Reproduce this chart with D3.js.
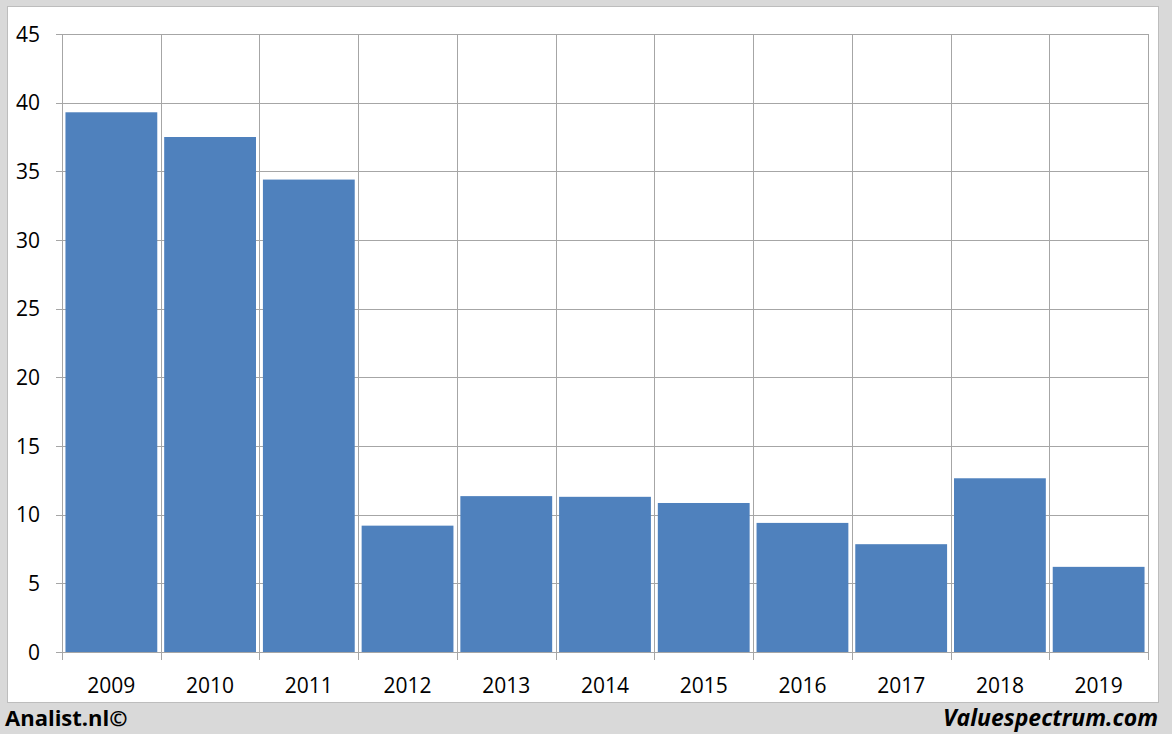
<!DOCTYPE html>
<html><head><meta charset="utf-8">
<script src="https://cdn.jsdelivr.net/npm/d3@7"></script>
<style>
html,body{margin:0;padding:0;background:#d9d9d9;}
svg{display:block;}
</style></head>
<body>
<svg id="chart" width="1172" height="734"></svg>
<script>
const categories = ["2009","2010","2011","2012","2013","2014","2015","2016","2017","2018","2019"];
const values = [39.3, 37.5, 34.4, 9.2, 11.35, 11.3, 10.85, 9.4, 7.85, 12.65, 6.2];
const yTicks = [0,5,10,15,20,25,30,35,40,45];
const leftCredit = "Analist.nl©";
const rightCredit = "Valuespectrum.com";

const svg = d3.select("#chart");
const W = 1172, H = 734;
const m = {left:62, right:1148, top:34, bottom:652};
const font = "'Open Sans', 'Liberation Sans', sans-serif";

svg.append("rect").attr("x",0).attr("y",0).attr("width",W).attr("height",H).attr("fill","#d9d9d9");
svg.append("rect").attr("x",7.5).attr("y",6.5).attr("width",1151).attr("height",696)
  .attr("fill","#ffffff").attr("stroke","#bdbdbd").attr("stroke-width",1);

const x = d3.scaleBand().domain(categories).range([m.left, m.right]).paddingInner(0.07).paddingOuter(0.035);
const xb = d3.scaleBand().domain(categories).range([m.left, m.right]).padding(0);
const y = d3.scaleLinear().domain([0,45]).range([m.bottom, m.top]);

const grid = svg.append("g");
grid.selectAll("line.h").data(yTicks).join("line")
  .attr("x1", m.left-6).attr("x2", m.right)
  .attr("y1", d=>Math.round(y(d))+0.5).attr("y2", d=>Math.round(y(d))+0.5)
  .attr("stroke","#a6a6a6").attr("stroke-width",1);
const bounds = categories.map(c=>xb(c)).concat([m.right]);
grid.selectAll("line.v").data(bounds).join("line")
  .attr("x1", d=>Math.round(d)+0.5).attr("x2", d=>Math.round(d)+0.5)
  .attr("y1", m.top).attr("y2", m.bottom+8)
  .attr("stroke","#a6a6a6").attr("stroke-width",1);

svg.append("g").selectAll("rect").data(categories).join("rect")
  .attr("x", d=>x(d)).attr("width", x.bandwidth())
  .attr("y", (d,i)=>y(values[i])).attr("height", (d,i)=>y(0)-y(values[i]))
  .attr("fill","#4f81bd");

svg.append("g").selectAll("text").data(yTicks).join("text")
  .attr("x", 40).attr("y", d=>y(d)).attr("dy","0.36em")
  .attr("text-anchor","end").attr("font-family",font).attr("font-size",21).attr("fill","#000")
  .text(d=>d);

svg.append("g").selectAll("text").data(categories).join("text")
  .attr("x", d=>xb(d)+xb.bandwidth()/2).attr("y", 693)
  .attr("text-anchor","middle").attr("font-family",font).attr("font-size",21).attr("fill","#000")
  .text(d=>d);

svg.append("text").attr("x",5).attr("y",726).attr("font-family",font).attr("font-weight","bold")
  .attr("font-size",22).attr("fill","#000").text(leftCredit);
svg.append("text").attr("x",1158).attr("y",726).attr("text-anchor","end").attr("font-family",font)
  .attr("font-weight","bold").attr("font-style","italic").attr("font-size",23).attr("fill","#000").text(rightCredit);
</script>
</body></html>
